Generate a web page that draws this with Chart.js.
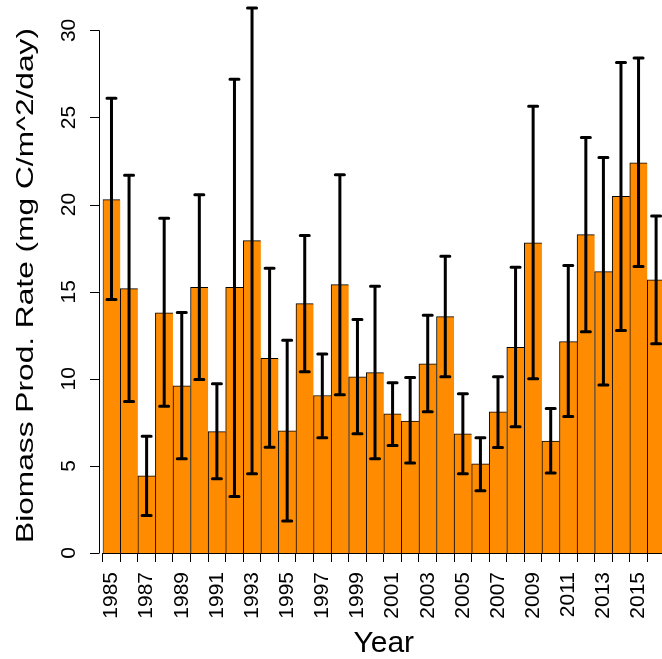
<!DOCTYPE html>
<html>
<head>
<meta charset="utf-8">
<title>Biomass Prod. Rate</title>
<script src="https://cdn.jsdelivr.net/npm/chart.js@4.4.0/dist/chart.umd.min.js"></script>
<style>
  html, body { margin: 0; padding: 0; overflow: hidden; background: #fff; }
  canvas { display: block; }
</style>
</head>
<body>
<canvas id="bioChart" width="700" height="659"></canvas>
<script>
// ---- data ----
const years = ['1985', '1986', '1987', '1988', '1989', '1990', '1991', '1992',
               '1993', '1994', '1995', '1996', '1997', '1998', '1999', '2000',
               '2001', '2002', '2003', '2004', '2005', '2006', '2007', '2008',
               '2009', '2010', '2011', '2012', '2013', '2014', '2015', '2016'];
const rates = [20.29, 15.18, 4.43, 13.79, 9.59, 15.25, 6.97, 15.25,
               17.93, 11.17, 7.01, 14.32, 9.04, 15.41, 10.12, 10.35,
               7.99, 7.58, 10.86, 13.57, 6.84, 5.12, 8.11, 11.80,
               17.81, 6.43, 12.13, 18.28, 16.15, 20.47, 22.40, 15.68];
const errUpper = [26.10, 21.68, 6.70, 19.22, 13.81, 20.57, 9.71, 27.19,
                  31.29, 16.35, 12.21, 18.22, 11.43, 21.72, 13.40, 15.31,
                  9.77, 10.08, 13.65, 17.03, 9.14, 6.62, 10.12, 16.41,
                  25.64, 8.30, 16.50, 23.85, 22.70, 28.16, 28.42, 19.34];
const errLower = [14.55, 8.69, 2.15, 8.42, 5.41, 9.96, 4.26, 3.24,
                  4.55, 6.07, 1.84, 10.41, 6.62, 9.08, 6.84, 5.41,
                  6.17, 5.16, 8.11, 10.12, 4.55, 3.57, 6.05, 7.25,
                  10.00, 4.59, 7.83, 12.70, 9.65, 12.77, 16.45, 12.01];
const yTicks = [0, 5, 10, 15, 20, 25, 30];

const FONT = '"Liberation Sans", Arial, sans-serif';

// error bars (drawn through the chart's scales)
const errorBars = {
    id: 'errorBars',
    afterDatasetsDraw(chart) {
        const ctx = chart.ctx;
        const xs = chart.scales.x, ys = chart.scales.y;
        ctx.save();
        ctx.strokeStyle = '#000';
        ctx.lineWidth = 3;
        ctx.lineCap = 'round';
        for (let i = 0; i < rates.length; i++) {
            const x = xs.getPixelForValue(i);
            const yT = ys.getPixelForValue(errUpper[i]);
            const yB = ys.getPixelForValue(errLower[i]);
            ctx.beginPath();
            ctx.moveTo(x, yT); ctx.lineTo(x, yB);
            ctx.moveTo(x - 4.5, yT); ctx.lineTo(x + 4.5, yT);
            ctx.moveTo(x - 4.5, yB); ctx.lineTo(x + 4.5, yB);
            ctx.stroke();
        }
        ctx.restore();
    }
};

// R-style y axis: detached line, rotated tick labels, axis title
const rAxis = {
    id: 'rAxis',
    afterDraw(chart) {
        const ctx = chart.ctx;
        const ys = chart.scales.y;
        const ax = Math.round(chart.chartArea.left - 4) + 0.5;
        ctx.save();
        ctx.strokeStyle = '#000';
        ctx.lineWidth = 1;
        ctx.beginPath();
        ctx.moveTo(ax, ys.getPixelForValue(yTicks[0]));
        ctx.lineTo(ax, ys.getPixelForValue(yTicks[yTicks.length - 1]));
        yTicks.forEach(v => {
            const y = Math.round(ys.getPixelForValue(v)) + 0.5;
            ctx.moveTo(ax - 9.5, y);
            ctx.lineTo(ax, y);
        });
        ctx.stroke();

        ctx.fillStyle = '#000';
        ctx.font = '21px ' + FONT;
        ctx.textAlign = 'center';
        ctx.textBaseline = 'alphabetic';
        yTicks.forEach(v => {
            ctx.save();
            ctx.translate(75, ys.getPixelForValue(v));
            ctx.rotate(-Math.PI / 2);
            ctx.fillText(String(v), 0, 0);
            ctx.restore();
        });

        // y title
        ctx.save();
        ctx.font = '31.7px ' + FONT;
        ctx.translate(33, 285.5);
        ctx.rotate(-Math.PI / 2);
        ctx.scale(1, 0.78);
        ctx.fillText('Biomass Prod. Rate (mg C/m^2/day)', 0, 0);
        ctx.restore();
        ctx.restore();
    }
};

new Chart(document.getElementById('bioChart'), {
    type: 'bar',
    data: {
        labels: years,
        datasets: [{
            data: rates,
            backgroundColor: '#FF8C00',
            borderColor: '#000',
            borderWidth: { top: 1, left: 1, right: 0, bottom: 0 },
            borderSkipped: false,
            barPercentage: 1.0,
            categoryPercentage: 1.0
        }]
    },
    options: {
        responsive: false,
        animation: false,
        layout: { padding: { top: 30.4, right: 35.1, left: 0, bottom: 0 } },
        plugins: {
            legend: { display: false },
            tooltip: { enabled: false }
        },
        scales: {
            x: {
                offset: true,
                grid: { offset: true, drawOnChartArea: false, drawTicks: true, tickLength: 9, color: '#000', lineWidth: 1 },
                border: { display: true, color: '#000', width: 1 },
                ticks: {
                    autoSkip: false,
                    minRotation: 90,
                    maxRotation: 90,
                    padding: 10,
                    color: '#000',
                    font: { family: FONT, size: 21 },
                    callback: function (v, i) { return i % 2 === 0 ? this.getLabelForValue(v) : ''; }
                },
                title: { display: true, text: 'Year', color: '#000', font: { family: FONT, size: 30, lineHeight: 1 }, padding: 0 },
                afterFit: s => { s.height = 106; }
            },
            y: {
                min: 0,
                max: 30,
                grid: { display: false },
                border: { display: false },
                ticks: { display: false, stepSize: 5 },
                afterBuildTicks: s => { s.ticks = yTicks.map(v => ({ value: v })); },
                afterFit: s => { s.width = 102.7; }
            }
        }
    },
    plugins: [errorBars, rAxis]
});
</script>
</body>
</html>
